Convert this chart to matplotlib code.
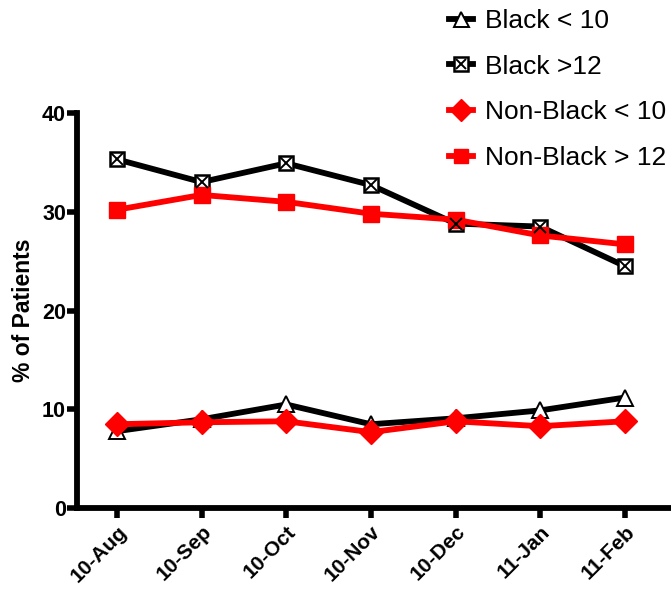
import matplotlib
matplotlib.use("Agg")
from matplotlib import pyplot as plt
from matplotlib.legend_handler import HandlerTuple

months = ["10-Aug", "10-Sep", "10-Oct", "10-Nov", "10-Dec", "11-Jan", "11-Feb"]
black_lt10 = [7.8, 9.0, 10.5, 8.5, 9.1, 9.9, 11.2]
black_gt12 = [35.3, 33.0, 34.9, 32.7, 28.8, 28.5, 24.5]
nonblack_lt10 = [8.5, 8.7, 8.8, 7.7, 8.8, 8.3, 8.8]
nonblack_gt12 = [30.2, 31.7, 31.0, 29.8, 29.2, 27.6, 26.7]

plt.rcParams['font.family'] = ['Liberation Sans', 'DejaVu Sans']

fig = plt.figure(figsize=(6.71, 5.91), dpi=100)
ax = fig.add_axes([0.115, 0.140, 0.883, 0.669])
x = list(range(len(months)))

l1, = ax.plot(x, black_lt10, color="black", lw=4.2, marker="^", ms=12,
              mfc="white", mec="black", mew=1.4, zorder=3)
l2, = ax.plot(x, black_gt12, color="black", lw=4.2, marker="s", ms=10.5,
              mfc="white", mec="black", mew=1.8, zorder=3)
l2x, = ax.plot(x, black_gt12, ls="none", marker="x", ms=8, mec="black",
               mew=1.4, zorder=4)
l3, = ax.plot(x, nonblack_lt10, color="red", lw=4.2, marker="D", ms=12,
              mfc="red", mec="red", zorder=3)
l4, = ax.plot(x, nonblack_gt12, color="red", lw=4.2, marker="s", ms=11.5,
              mfc="red", mec="red", zorder=3)

ax.set_ylim(0, 40)
ax.set_xlim(-0.47, 6.53)
ax.set_yticks([0, 10, 20, 30, 40])
ax.set_xticks(x)
ax.set_xticklabels(months, rotation=45, ha="right", rotation_mode="anchor",
                   fontsize=15, fontweight="bold")
for t in ax.get_yticklabels():
    t.set_fontweight("bold")
    t.set_fontsize(15.5)
ax.tick_params(axis="both", direction="out", length=7, width=4, pad=1)
ax.tick_params(axis="x", pad=3)
ax.spines["top"].set_visible(False)
ax.spines["right"].set_visible(False)
ax.spines["left"].set_linewidth(4.2)
ax.spines["bottom"].set_linewidth(4.2)
ax.set_ylabel("% of Patients", fontsize=16.5, fontweight="bold", labelpad=5)

fig.legend([l1, (l2, l2x), l3, l4],
           ["Black < 10", "Black >12", "Non-Black < 10", "Non-Black > 12"],
           handler_map={tuple: HandlerTuple(ndivide=1)},
           loc="upper left", bbox_to_anchor=(0.669, 0.985), frameon=False,
           fontsize=19, handlelength=0.9, handletextpad=0.45,
           labelspacing=0.82, borderpad=0, borderaxespad=0, markerscale=0.9)

fig.savefig("out.png", dpi=100)
